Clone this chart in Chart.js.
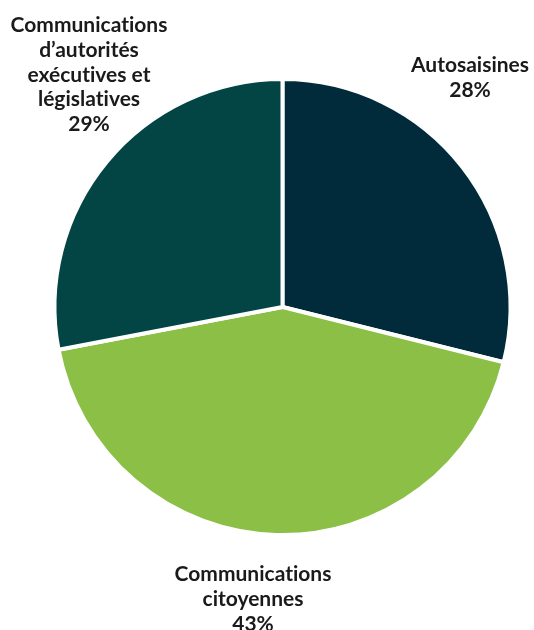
<!DOCTYPE html>
<html>
<head>
<meta charset="utf-8">
<script src="https://cdn.jsdelivr.net/npm/chart.js@4/dist/chart.umd.min.js"></script>
<style>
  html, body { margin: 0; padding: 0; background: #fff; }
  #wrap { width: 534px; height: 630px; position: relative; }
</style>
</head>
<body>
<div id="wrap"><canvas id="pie"></canvas></div>
<script>
// slice names, split in lines as printed
const categories = [
    ['Autosaisines'],
    ['Communications', 'citoyennes'],
    ['Communications', 'd\u2019autorités', 'exécutives et', 'législatives']
];
// slice sizes (in %)
const shares = [28.9, 43.1, 28.0];
// percentages as printed on the chart
const shareLabels = ['28%', '43%', '29%'];
const colors = ['#012b3a', '#8bbf45', '#034545'];

// label block: centre x, baseline of its first line
const labelAnchors = [
    { x: 470, y: 72 },
    { x: 253, y: 581 },
    { x: 89, y: 32 }
];
const lineStep = 24.8;

// Lato joins "ti" into a ligature in canvas; a zero-width non-joiner stops it
const noLig = s => s.replace(/ti/g, 't\u200Ci');

const labelPlugin = {
    id: 'sliceLabels',
    afterDraw(chart) {
        const ctx = chart.ctx;
        ctx.save();
        ctx.font = 'bold 21px Lato';
        ctx.fillStyle = '#1a1a1a';
        ctx.textAlign = 'center';
        ctx.textBaseline = 'alphabetic';
        categories.forEach((lines, i) => {
            const a = labelAnchors[i];
            lines.concat([shareLabels[i]]).forEach((t, k) => {
                ctx.fillText(noLig(t), a.x, a.y + k * lineStep);
            });
        });
        ctx.restore();
    }
};

new Chart(document.getElementById('pie'), {
    type: 'pie',
    data: {
        labels: categories.map(c => c.join(' ')),
        datasets: [{
            data: shares,
            backgroundColor: colors,
            borderColor: '#ffffff',
            borderWidth: 4
        }]
    },
    options: {
        responsive: true,
        maintainAspectRatio: false,
        animation: false,
        layout: { padding: { left: 52, right: 21, top: 77, bottom: 93 } },
        plugins: {
            legend: { display: false },
            tooltip: { enabled: false }
        }
    },
    plugins: [labelPlugin]
});
</script>
</body>
</html>
